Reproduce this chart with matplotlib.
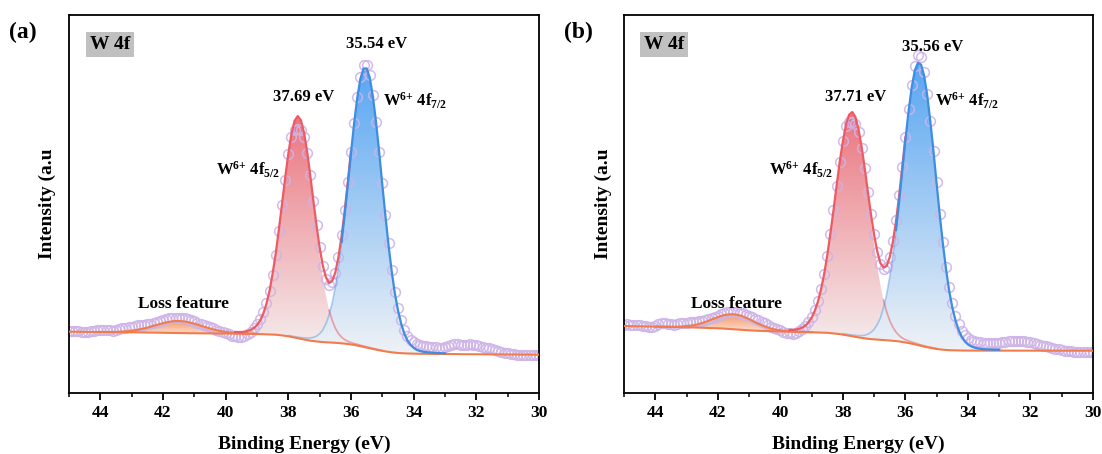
import matplotlib

matplotlib.use("Agg")
import matplotlib.pyplot as plt
import numpy as np
from matplotlib.colors import LinearSegmentedColormap
from matplotlib.patches import Polygon
from matplotlib.ticker import MultipleLocator

# binding energy grid of the scan, 45.0 -> 30.0 eV in 0.1 eV steps
ENERGY = np.round(np.arange(450, 299, -1) / 10.0, 1)

# fitted components are listed from these energies downwards (same 0.1 eV step)
LOSS_START = 44.0
RED_START = 40.5
BLUE_START = 38.5

# ---------------- panel (a) ----------------
A_DATA = [
    62.3, 62.5, 62.0, 61.7, 61.5, 61.3, 60.8, 61.6, 62.2, 62.6,
    62.8, 63.0, 63.0, 62.7, 62.5, 63.1, 64.3, 65.0, 65.2, 65.7,
    66.5, 67.2, 67.7, 68.0, 68.4, 69.0, 69.5, 70.2, 70.8, 72.0,
    73.0, 74.0, 74.7, 75.2, 75.3, 75.0, 75.0, 74.9, 74.4, 73.2,
    71.7, 70.4, 69.2, 68.0, 66.8, 65.9, 64.8, 63.4, 62.2, 61.0,
    59.8, 58.6, 57.5, 56.6, 56.2, 56.2, 57.1, 59.0, 61.4, 64.9,
    69.2, 74.2, 81.0, 90.1, 102.0, 118.0, 138.4, 162.3, 187.7, 212.6,
    238.6, 256.4, 263.2, 263.9, 262.9, 256.4, 240.3, 217.6, 192.0, 168.2,
    146.0, 127.2, 114.4, 108.3, 110.6, 119.9, 136.3, 158.2, 183.5, 211.5,
    241.1, 270.3, 296.5, 316.2, 327.8, 328.4, 317.9, 297.9, 271.3, 241.0,
    209.7, 178.0, 149.7, 122.9, 101.3, 85.4, 72.7, 63.3, 57.0, 53.1,
    50.6, 48.9, 48.0, 47.2, 46.8, 46.5, 46.0, 45.6, 45.5, 45.5,
    46.1, 47.0, 48.0, 48.6, 48.8, 48.5, 47.9, 48.2, 48.6, 48.4,
    47.6, 46.7, 46.1, 45.5, 44.7, 43.8, 43.0, 42.2, 41.3, 40.5,
    39.7, 39.1, 38.6, 38.4, 38.2, 38.0, 37.9, 38.1, 37.8, 38.1,
    38.2,
]
A_BACKGROUND = [
    61.3, 61.3, 61.2, 61.2, 61.2, 61.1, 61.1, 61.1, 61.0, 61.0,
    61.0, 61.0, 60.9, 60.9, 60.9, 60.8, 60.8, 60.8, 60.7, 60.7,
    60.7, 60.6, 60.6, 60.6, 60.5, 60.5, 60.4, 60.4, 60.3, 60.3,
    60.2, 60.2, 60.1, 60.1, 60.0, 60.0, 59.9, 59.9, 59.8, 59.8,
    59.7, 59.7, 59.7, 59.6, 59.6, 59.6, 59.6, 59.5, 59.5, 59.5,
    59.5, 59.5, 59.4, 59.4, 59.4, 59.3, 59.3, 59.3, 59.2, 59.2,
    59.1, 59.0, 58.9, 58.8, 58.7, 58.5, 58.3, 58.0, 57.6, 57.2,
    56.7, 56.1, 55.4, 54.8, 54.1, 53.5, 52.9, 52.3, 51.9, 51.5,
    51.2, 50.9, 50.7, 50.6, 50.4, 50.2, 50.0, 49.7, 49.4, 49.0,
    48.6, 48.1, 47.5, 46.8, 46.1, 45.4, 44.7, 44.0, 43.3, 42.7,
    42.1, 41.6, 41.1, 40.7, 40.3, 40.0, 39.8, 39.6, 39.5, 39.4,
    39.3, 39.2, 39.2, 39.2, 39.1, 39.1, 39.1, 39.0, 39.0, 39.0,
    38.9, 38.9, 38.9, 38.9, 38.8, 38.8, 38.8, 38.8, 38.7, 38.7,
    38.7, 38.7, 38.7, 38.6, 38.6, 38.6, 38.6, 38.6, 38.5, 38.5,
    38.5, 38.5, 38.5, 38.5, 38.4, 38.4, 38.4, 38.4, 38.4, 38.3,
    38.3,
]
A_LOSS = [
    0.0, 0.1, 0.1, 0.2, 0.2, 0.3, 0.5, 0.7, 0.9, 1.2,
    1.6, 2.1, 2.7, 3.4, 4.1, 4.9, 5.8, 6.8, 7.7, 8.7,
    9.6, 10.4, 11.0, 11.6, 11.9, 12.0, 11.9, 11.6, 11.0, 10.4,
    9.6, 8.7, 7.7, 6.8, 5.8, 4.9, 4.1, 3.4, 2.7, 2.1,
    1.6, 1.2, 0.9, 0.7, 0.5, 0.3, 0.2, 0.2, 0.1, 0.1, 0.0,
]
A_RED = [
    0.4, 0.5, 0.5, 0.6, 0.6, 0.7, 0.7, 0.8, 0.9, 1.1,
    1.4, 1.8, 2.5, 3.7, 5.7, 8.7, 13.4, 20.4, 30.3, 43.3,
    60.5, 81.1, 105.3, 131.1, 157.4, 181.9, 202.3, 215.8, 221.0, 217.5,
    205.3, 186.4, 162.6, 136.4, 110.3, 85.8, 64.3, 46.4, 32.2, 22.1,
    14.6, 9.4, 6.1, 4.0, 2.6, 1.9, 1.4, 1.2, 1.0, 0.9,
    0.8, 0.7, 0.6, 0.6, 0.5, 0.5, 0.4, 0.4, 0.4, 0.3, 0.3,
]
A_BLUE = [
    0.6, 0.6, 0.7, 0.7, 0.8, 0.8, 0.9, 1.0, 1.1, 1.3,
    1.6, 2.0, 2.7, 3.7, 5.4, 8.1, 12.1, 18.5, 27.3, 39.5,
    55.7, 76.7, 101.4, 129.1, 159.9, 191.6, 221.8, 247.8, 267.4, 278.3,
    279.2, 270.5, 252.3, 227.4, 197.8, 166.1, 135.0, 106.2, 80.7, 59.3,
    42.6, 29.7, 19.9, 13.1, 8.8, 5.9, 3.9, 2.8, 2.1, 1.7,
    1.4, 1.2, 1.0, 0.9, 0.8, 0.8, 0.7, 0.7, 0.6, 0.6, 0.6,
]
A_PEAK_LABELS = ["37.69 eV", "35.54 eV"]

# ---------------- panel (b) ----------------
B_DATA = [
    68.5, 68.6, 68.3, 67.8, 68.0, 68.2, 67.4, 66.6, 66.0, 66.2,
    67.4, 69.3, 70.3, 70.1, 69.5, 68.6, 68.2, 68.9, 69.9, 70.4,
    70.5, 70.6, 70.8, 71.3, 71.7, 72.2, 72.9, 73.8, 75.0, 76.2,
    77.5, 78.8, 79.9, 80.6, 81.1, 81.2, 80.9, 80.4, 79.6, 78.4,
    77.3, 75.9, 74.3, 72.6, 71.1, 69.8, 68.1, 66.5, 65.2, 64.1,
    62.7, 61.3, 60.2, 59.6, 59.5, 60.1, 61.6, 63.8, 66.8, 70.6,
    76.2, 83.0, 92.1, 103.8, 118.6, 137.5, 159.4, 182.7, 207.5, 231.2,
    251.7, 266.7, 271.3, 271.0, 269.0, 260.9, 245.1, 224.6, 201.1, 179.2,
    159.0, 141.5, 128.9, 124.5, 126.3, 136.0, 152.2, 173.0, 198.3, 226.2,
    255.6, 283.6, 307.8, 326.7, 338.1, 336.4, 321.0, 299.0, 271.6, 241.8,
    210.6, 179.2, 151.4, 126.2, 105.6, 89.6, 77.3, 68.7, 62.3, 58.2,
    55.4, 53.5, 52.1, 51.2, 50.6, 50.2, 49.9, 49.7, 49.6, 49.7,
    50.0, 50.8, 51.5, 52.1, 52.3, 52.2, 51.8, 51.6, 51.8, 51.4,
    50.6, 50.0, 49.2, 48.2, 47.4, 46.8, 46.2, 45.4, 44.5, 43.7,
    42.9, 42.3, 41.9, 41.7, 41.5, 41.5, 41.3, 41.4, 41.3, 41.2,
    41.3,
]
B_BACKGROUND = [
    67.0, 66.9, 66.9, 66.8, 66.8, 66.7, 66.6, 66.6, 66.5, 66.5,
    66.4, 66.3, 66.3, 66.2, 66.2, 66.1, 66.0, 66.0, 65.9, 65.9,
    65.8, 65.7, 65.6, 65.6, 65.5, 65.4, 65.3, 65.2, 65.1, 64.9,
    64.7, 64.6, 64.4, 64.1, 63.9, 63.7, 63.5, 63.3, 63.1, 62.8,
    62.7, 62.5, 62.3, 62.2, 62.1, 62.0, 61.9, 61.8, 61.7, 61.7,
    61.6, 61.5, 61.4, 61.4, 61.3, 61.2, 61.1, 61.0, 61.0, 60.9,
    60.8, 60.7, 60.6, 60.5, 60.4, 60.2, 59.9, 59.6, 59.3, 58.9,
    58.4, 57.9, 57.3, 56.7, 56.2, 55.6, 55.1, 54.6, 54.2, 53.9,
    53.6, 53.4, 53.2, 52.9, 52.7, 52.5, 52.2, 51.9, 51.6, 51.1,
    50.6, 50.0, 49.4, 48.7, 47.9, 47.2, 46.4, 45.7, 45.1, 44.5,
    44.0, 43.6, 43.3, 43.0, 42.8, 42.7, 42.5, 42.5, 42.4, 42.4,
    42.4,
] + [42.4] * 27 + [42.3] * 13
B_LOSS = [
    0.0, 0.0, 0.0, 0.1, 0.1, 0.1, 0.2, 0.3, 0.5, 0.7,
    1.1, 1.5, 2.0, 2.7, 3.6, 4.6, 5.8, 7.0, 8.4, 9.8,
    11.2, 12.4, 13.5, 14.3, 14.8, 15.0, 14.8, 14.3, 13.5, 12.4,
    11.2, 9.8, 8.4, 7.0, 5.8, 4.6, 3.6, 2.7, 2.0, 1.5,
    1.1, 0.7, 0.5, 0.3, 0.2, 0.1, 0.1, 0.1, 0.0, 0.0, 0.0,
]
B_RED = [
    0.6, 0.6, 0.6, 0.7, 0.7, 0.8, 0.9, 1.1, 1.3, 1.6,
    2.2, 3.0, 4.3, 6.4, 9.7, 14.4, 21.3, 30.5, 42.8, 58.2,
    76.7, 98.8, 122.4, 147.4, 171.5, 192.4, 209.8, 219.9, 223.0, 218.3,
    206.5, 188.7, 166.8, 142.3, 117.5, 94.3, 73.0, 54.9, 40.1, 28.5,
    19.8, 13.5, 8.9, 5.9, 3.9, 2.7, 2.1, 1.6, 1.3, 1.0,
    0.9, 0.8, 0.7, 0.7, 0.6, 0.6, 0.5, 0.5, 0.5, 0.4, 0.4,
]
B_BLUE = [
    0.6, 0.7, 0.7, 0.8, 0.8, 0.9, 1.0, 1.1, 1.3, 1.5,
    1.8, 2.3, 3.2, 4.6, 6.8, 10.1, 15.1, 21.8, 32.5, 45.6,
    63.7, 85.5, 111.2, 139.8, 171.2, 202.3, 231.5, 255.8, 273.7, 282.2,
    281.3, 270.8, 251.6, 225.8, 196.7, 165.0, 134.1, 105.6, 80.7, 59.4,
    43.0, 30.3, 20.7, 13.9, 9.3, 6.2, 4.3, 3.1, 2.3, 1.8,
    1.4, 1.2, 1.1, 1.0, 0.9, 0.8, 0.8, 0.7, 0.7, 0.6, 0.6,
]
B_PEAK_LABELS = ["37.71 eV", "35.56 eV"]

RED = "#ee5a63"
BLUE = "#3d8de2"
ORANGE = "#f07c4c"
LAVENDER = "#cdb3e7"


def on_grid(values, start):
    out = np.zeros_like(ENERGY)
    i = int(round((ENERGY[0] - start) * 10))
    out[i:i + len(values)] = values
    return out


def gradient_fill(ax, x, lower, upper, top, bottom, zorder=1):
    verts = np.vstack([np.column_stack([x, upper]), np.column_stack([x[::-1], lower[::-1]])])
    clip = Polygon(verts, closed=True, facecolor="none", edgecolor="none", transform=ax.transData)
    ax.add_patch(clip)
    cmap = LinearSegmentedColormap.from_list("grad", [bottom, top])
    grad = np.linspace(0, 1, 256).reshape(-1, 1)
    im = ax.imshow(grad, cmap=cmap, aspect="auto", origin="lower", interpolation="bilinear",
                   extent=[x.min(), x.max(), lower.min(), upper.max()], zorder=zorder)
    im.set_clip_path(clip)


def xps_panel(ax, data, background, loss, red, blue, peak_labels, txt):
    e = ENERGY
    bg = np.array(background, dtype=float)
    loss = on_grid(loss, LOSS_START)
    red = on_grid(red, RED_START)
    blue = on_grid(blue, BLUE_START)
    env = bg + loss + red + blue

    m_loss = (e <= 44.0) & (e >= 39.0)
    m_red = (e <= 40.5) & (e >= 34.5)
    m_blue = (e <= 38.5) & (e >= 32.5)
    gradient_fill(ax, e[m_red], bg[m_red], (bg + red)[m_red], "#eb7680", "#f5efef", 1)
    gradient_fill(ax, e[m_blue], bg[m_blue], (bg + blue)[m_blue], "#58a6f2", "#eff2f6", 1.1)
    gradient_fill(ax, e[m_loss], bg[m_loss], (bg + loss)[m_loss], "#f39a6c", "#fbe0d0", 1.2)

    ax.plot(e, data, "o", ms=7, mfc="none", mec=LAVENDER, mew=1.1, alpha=0.9, zorder=2)

    m = (e <= 36.7) & (e >= 35.0)
    ax.plot(e[m], (bg + red)[m], color=RED, lw=1.2, alpha=0.55, zorder=3)
    m = (e <= 38.0) & (e >= 36.3)
    ax.plot(e[m], (bg + blue)[m], color=BLUE, lw=1.2, alpha=0.4, zorder=3)

    ax.plot(e, bg, color=ORANGE, lw=1.5, zorder=4)
    ax.plot(e[m_loss], (bg + loss)[m_loss], color=ORANGE, lw=1.5, zorder=4)
    m = (e <= 39.7) & (e >= 36.0)
    ax.plot(e[m], env[m], color=RED, lw=1.6, zorder=5)
    m = (e <= 36.3) & (e >= 33.0)
    ax.plot(e[m], (bg + blue)[m], color=BLUE, lw=1.6, zorder=6)

    ax.set_xlim(45, 30)
    ax.set_ylim(0, 378)
    ax.xaxis.set_major_locator(MultipleLocator(2))
    ax.xaxis.set_minor_locator(MultipleLocator(1))
    ax.tick_params(axis="x", which="major", direction="out", length=5, width=1.3, labelsize=12.5, pad=3.5)
    ax.tick_params(axis="x", which="minor", direction="out", length=3, width=1.1)
    ax.set_yticks([])
    ax.set_xlabel("Binding Energy (eV)", fontsize=14, labelpad=11)
    ax.set_ylabel("Intensity (a.u", fontsize=14, labelpad=9)

    ax.text(txt["red_lab"], 292, peak_labels[0], ha="center", va="baseline", fontsize=12)
    ax.text(txt["blue_lab"][0], txt["blue_lab"][1], peak_labels[1], ha="center", va="baseline", fontsize=12)
    ax.text(txt["w72"], 287, r"W$^{6{+}}$ 4f$_{7/2}$", ha="left", va="baseline", fontsize=12)
    ax.text(txt["w52"], 218, r"W$^{6{+}}$ 4f$_{5/2}$", ha="left", va="baseline", fontsize=12)
    ax.text(txt["loss"], 85, "Loss feature", ha="center", va="baseline", fontsize=12.5)
    ax.text(txt["box"], 0.921, "W 4f", transform=ax.transAxes, ha="center", va="center", fontsize=14,
            bbox=dict(boxstyle="square,pad=0.2", facecolor="#c0c0c0", edgecolor="none"))


def main():
    plt.rcParams.update({
        "font.family": "serif",
        "font.serif": ["Liberation Serif", "DejaVu Serif"],
        "font.weight": "bold",
        "axes.labelweight": "bold",
        "mathtext.fontset": "custom",
        "mathtext.rm": "Liberation Serif:bold",
        "mathtext.it": "Liberation Serif:italic:bold",
        "mathtext.bf": "Liberation Serif:bold",
        "axes.linewidth": 1.3,
    })
    fig = plt.figure(figsize=(11.02, 4.54), dpi=100)
    ax_a = fig.add_axes([69 / 1102, 61 / 454, 470 / 1102, 378 / 454])
    ax_b = fig.add_axes([624 / 1102, 61 / 454, 469 / 1102, 378 / 454])

    xps_panel(ax_a, A_DATA, A_BACKGROUND, A_LOSS, A_RED, A_BLUE, A_PEAK_LABELS,
              {"red_lab": 37.50, "blue_lab": (35.20, 345), "w72": 34.97, "w52": 40.30,
               "loss": 41.36, "box": 0.087})
    xps_panel(ax_b, B_DATA, B_BACKGROUND, B_LOSS, B_RED, B_BLUE, B_PEAK_LABELS,
              {"red_lab": 37.60, "blue_lab": (35.13, 342), "w72": 35.04, "w52": 40.35,
               "loss": 41.41, "box": 0.085})

    fig.text(9 / 1102, 1 - 32 / 454, "(a)", ha="left", va="center", fontsize=17)
    fig.text(564 / 1102, 1 - 32 / 454, "(b)", ha="left", va="center", fontsize=17)

    fig.savefig("out.png", dpi=100)
    plt.close(fig)


if __name__ == "__main__":
    main()
